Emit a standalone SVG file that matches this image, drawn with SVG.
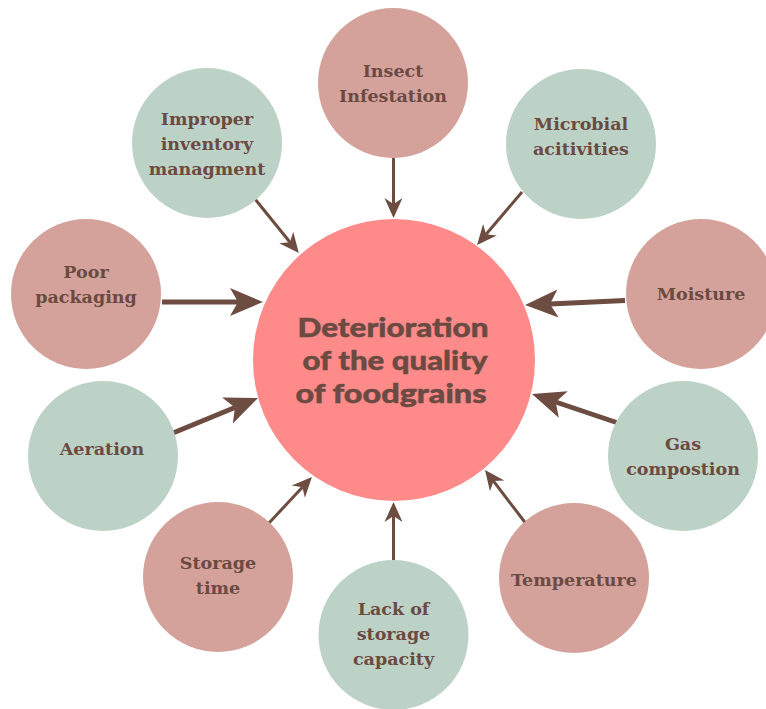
<svg xmlns="http://www.w3.org/2000/svg" width="766" height="709" viewBox="0 0 766 709">
  <style>
    .pink { fill: #D4A19B; }
    .green { fill: #BDD2C6; }
    .core { fill: #FF8A8A; }
    .lbl { font-family: "DejaVu Serif", "Liberation Serif", serif; font-weight: bold; font-size: 17.5px; fill: #6B4A42; text-anchor: middle; }
    .title { font-family: "Lato", "Open Sans", sans-serif; font-weight: 900; font-size: 27px; fill: #6B4A42; stroke: #6B4A42; stroke-width: 0.5; text-anchor: middle; }
    .thin { stroke: #6D4C41; stroke-width: 3; fill: none; marker-end: url(#headS); }
    .thick { stroke: #6D4C41; stroke-width: 5; fill: none; marker-end: url(#headL); }
  </style>
  <defs>
    <marker id="headS" markerUnits="userSpaceOnUse" orient="auto" refX="0" refY="0" markerWidth="40" markerHeight="40" viewBox="-10 -20 40 40" overflow="visible">
      <path d="M14,0 L-6,-9 L0,0 L-6,9 Z" fill="#6D4C41"/>
    </marker>
    <marker id="headL" markerUnits="userSpaceOnUse" orient="auto" refX="0" refY="0" markerWidth="60" markerHeight="60" viewBox="-15 -30 60 60" overflow="visible">
      <path d="M25,0 L-8,-14 L0,0 L-8,14 Z" fill="#6D4C41"/>
    </marker>
  </defs>

  <rect width="766" height="709" fill="#FFFFFF"/>

  <!-- connectors: each cause points at the central circle -->
  <g id="connectors">
    <line class="thin" x1="393.5" y1="158" x2="393.5" y2="204"/>
    <line class="thin" x1="255" y1="199" x2="290" y2="242.2"/>
    <line class="thin" x1="522" y1="192" x2="486.1" y2="234.3"/>
    <line class="thick" x1="162" y1="302" x2="238" y2="302"/>
    <line class="thick" x1="625" y1="300.5" x2="550" y2="303.9"/>
    <line class="thick" x1="173" y1="433" x2="234.9" y2="407.5"/>
    <line class="thick" x1="618" y1="423" x2="555.7" y2="402"/>
    <line class="thin" x1="269" y1="523" x2="302.4" y2="487.2"/>
    <line class="thin" x1="393.5" y1="560" x2="393.5" y2="516"/>
    <line class="thin" x1="527" y1="525" x2="493.5" y2="481.1"/>
  </g>

  <g id="center">
    <circle class="core" cx="394" cy="360" r="141"/>
    <text class="title" x="393" y="337" textLength="191" lengthAdjust="spacingAndGlyphs">Deterioration</text>
    <text class="title" x="395" y="370" textLength="185" lengthAdjust="spacingAndGlyphs">of the quality</text>
    <text class="title" x="391" y="403" textLength="191" lengthAdjust="spacingAndGlyphs">of foodgrains</text>
  </g>

  <g id="insect">
    <circle class="pink" cx="393" cy="83" r="75"/>
    <text class="lbl" x="393" y="77">Insect</text>
    <text class="lbl" x="393" y="102">Infestation</text>
  </g>

  <g id="microbial">
    <circle class="green" cx="581" cy="144" r="75"/>
    <text class="lbl" x="581" y="130">Microbial</text>
    <text class="lbl" x="581" y="155">acitivities</text>
  </g>

  <g id="moisture">
    <circle class="pink" cx="701" cy="294" r="75"/>
    <text class="lbl" x="701" y="300">Moisture</text>
  </g>

  <g id="gas">
    <circle class="green" cx="683" cy="456" r="75"/>
    <text class="lbl" x="683" y="450">Gas</text>
    <text class="lbl" x="683" y="475">compostion</text>
  </g>

  <g id="temperature">
    <circle class="pink" cx="574" cy="578" r="75"/>
    <text class="lbl" x="574" y="586">Temperature</text>
  </g>

  <g id="lack-of-storage">
    <circle class="green" cx="393.5" cy="635" r="75"/>
    <text class="lbl" x="393.5" y="615">Lack of</text>
    <text class="lbl" x="393.5" y="640">storage</text>
    <text class="lbl" x="393.5" y="665">capacity</text>
  </g>

  <g id="storage-time">
    <circle class="pink" cx="218" cy="577" r="75"/>
    <text class="lbl" x="218" y="569">Storage</text>
    <text class="lbl" x="218" y="594">time</text>
  </g>

  <g id="aeration">
    <circle class="green" cx="103" cy="456" r="75"/>
    <text class="lbl" x="102" y="455">Aeration</text>
  </g>

  <g id="poor-packaging">
    <circle class="pink" cx="86" cy="294" r="75"/>
    <text class="lbl" x="86" y="278">Poor</text>
    <text class="lbl" x="86" y="303">packaging</text>
  </g>

  <g id="inventory">
    <circle class="green" cx="207" cy="143" r="75"/>
    <text class="lbl" x="207" y="125">Improper</text>
    <text class="lbl" x="207" y="150">inventory</text>
    <text class="lbl" x="207" y="175">managment</text>
  </g>
</svg>
